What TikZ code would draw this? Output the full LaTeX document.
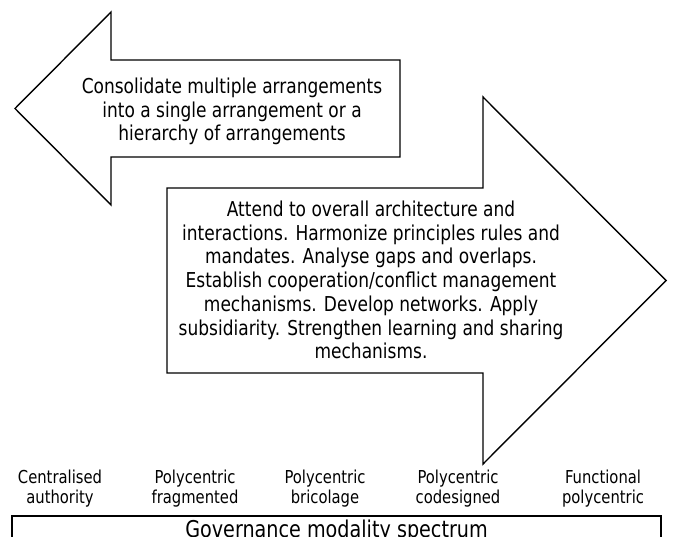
\documentclass[tikz,border=0pt]{standalone}
\usepackage{fontspec}
\setmainfont{DejaVu Sans}[FakeStretch=0.83]
\begin{document}
\begin{tikzpicture}[x=1pt,y=-1pt,
  arrowshape/.style={draw=black,line width=1.4pt,line join=miter,fill=white},
  bigtext/.style={align=center,inner sep=0pt,font=\fontsize{20.5}{23.7}\selectfont},
  modelabel/.style={align=center,inner sep=0pt,font=\fontsize{17.8}{20}\selectfont},
  spectrumbox/.style={draw=black,line width=1.5pt,anchor=north,minimum width=649pt,
    inner xsep=0pt,inner ysep=4.5pt,text height=17.6pt,text depth=5pt,
    font=\fontsize{23.1}{26}\selectfont}]
\clip (0,0) rectangle (676,537);
\fill[white] (0,0) rectangle (676,537);

% leftward block arrow: consolidation
\draw[arrowshape] (15,108.5) -- (111,12) -- (111,60) -- (400,60) -- (400,157)
  -- (111,157) -- (111,205) -- cycle;
\node[bigtext] (consolidate) at (232,111.5)
  {Consolidate multiple arrangements\\into a single arrangement or a\\hierarchy of arrangements};

% rightward block arrow: coordination
\draw[arrowshape] (167,188) -- (483,188) -- (483,97) -- (666,280.5) -- (483,464)
  -- (483,373) -- (167,373) -- cycle;
\node[bigtext] (attend) at (371,280)
  {Attend to overall architecture and\\interactions. Harmonize principles rules and\\mandates. Analyse gaps and overlaps.\\Establish cooperation/conflict management\\mechanisms. Develop networks. Apply\\subsidiarity. Strengthen learning and sharing\\mechanisms.};

% modality labels
\node[modelabel] (centralised) at (60,488.4) {Centralised\\authority};
\node[modelabel] (fragmented) at (195,488.4) {Polycentric\\fragmented};
\node[modelabel] (bricolage) at (325,488.4) {Polycentric\\bricolage};
\node[modelabel] (codesigned) at (458,488.4) {Polycentric\\codesigned};
\node[modelabel] (functional) at (603,488.4) {Functional\\polycentric};

% spectrum bar
\node[spectrumbox] (spectrum) at (336.5,515) {Governance modality spectrum};
\end{tikzpicture}
\end{document}
